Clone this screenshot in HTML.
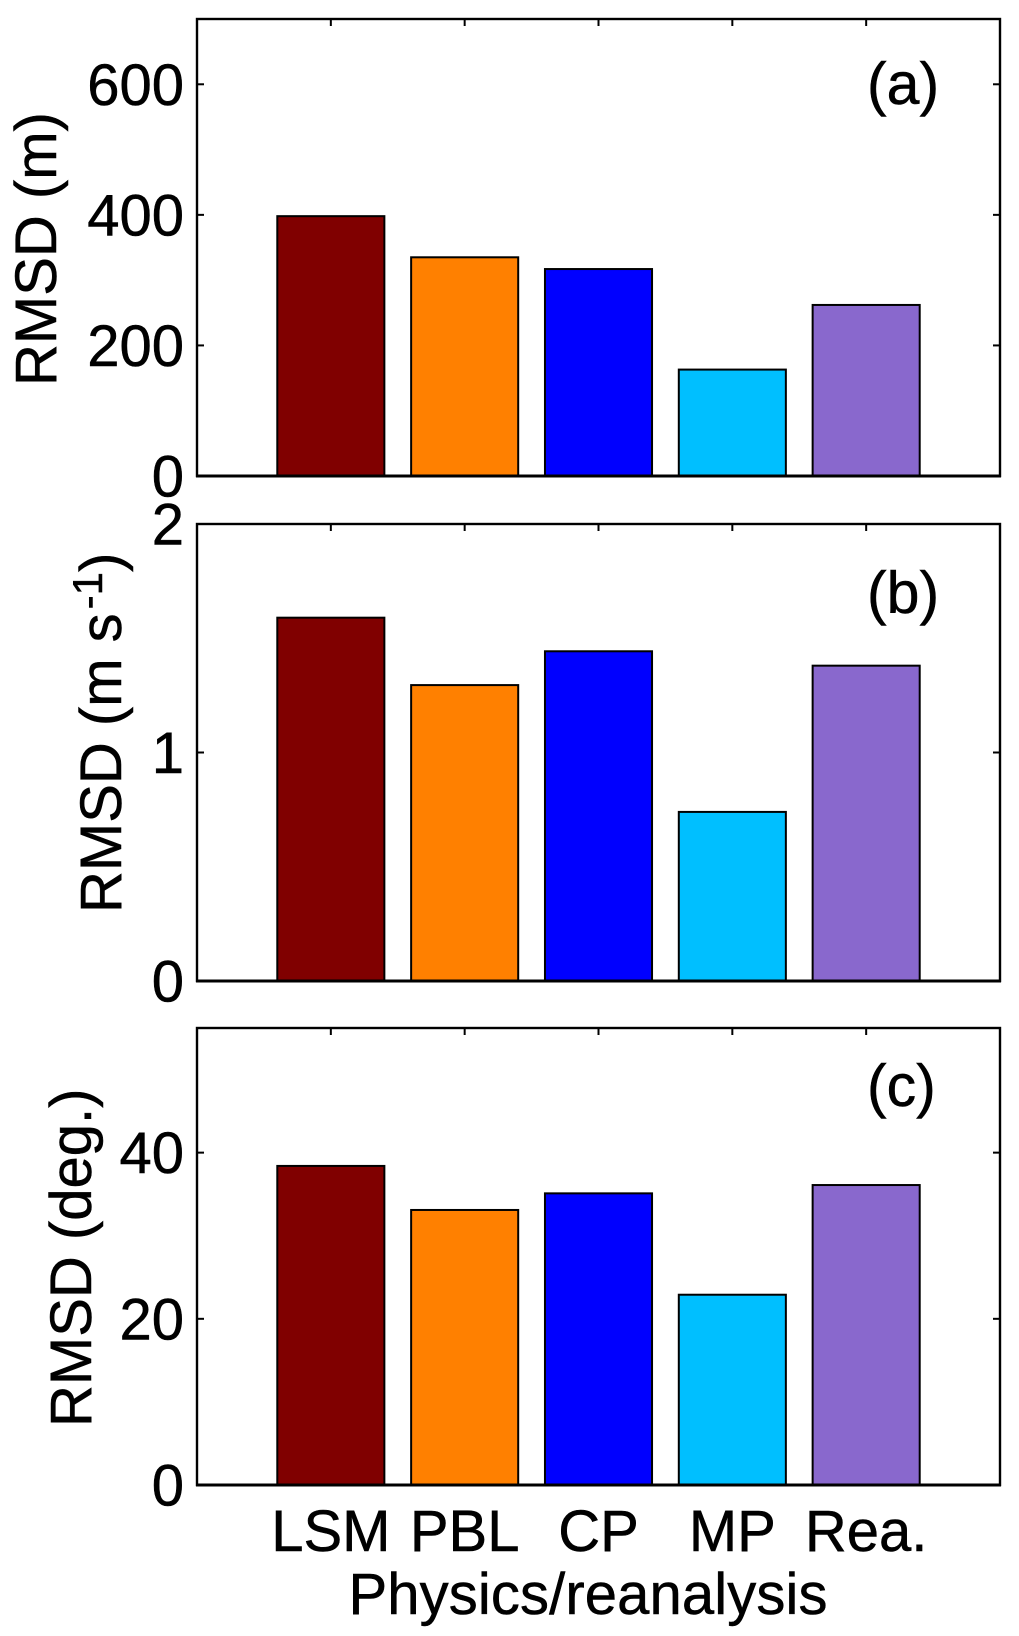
<!DOCTYPE html>
<html lang="en">
<head>
<meta charset="utf-8">
<title>RMSD by physics and reanalysis</title>
<style>
html,body{margin:0;padding:0;background:#fff;}
#chart{display:block;position:absolute;left:0;top:0;}
text{font-family:"Liberation Sans",Arial,sans-serif;font-size:58px;fill:#000;stroke:#000;stroke-width:.5px;}
text.panel-label{font-size:59px;}
</style>
</head>
<body>
<svg id="chart" xmlns="http://www.w3.org/2000/svg" width="1019" height="1636" viewBox="0 0 1019 1636">
<rect width="1019" height="1636" fill="#fff"/>
<g id="panels"></g>
<text transform="translate(56,386) rotate(-90)">RMSD (m)</text>
<text transform="translate(121,913) rotate(-90)">RMSD (m s<tspan dx="4" dy="-19" style="font-size:42px">-1</tspan><tspan dy="19">)</tspan></text>
<text transform="translate(91,1427) rotate(-90)">RMSD (deg.)</text>
<text x="588" y="1614" text-anchor="middle" textLength="479">Physics/reanalysis</text>
<text class="panel-label" x="867" y="104">(a)</text>
<text class="panel-label" x="867" y="613">(b)</text>
<text class="panel-label" x="867" y="1106">(c)</text>
</svg>
<script>
const categories = ['LSM', 'PBL', 'CP', 'MP', 'Rea.'];
const barColors = ['#800000', '#ff8000', '#0000ff', '#00bfff', '#8968cd'];
const valuesA = [398, 335, 317, 163, 262];
const valuesB = [1.59, 1.295, 1.443, 0.74, 1.38];
const valuesC = [38.4, 33.1, 35.1, 22.9, 36.1];
const ticksA = [0, 200, 400, 600];
const ticksB = [0, 1, 2];
const ticksC = [0, 20, 40];
const maxA = 700;
const maxB = 2;
const maxC = 55;

const SVG_NS = 'http://www.w3.org/2000/svg';
const plotLeft = 197;
const plotRight = 1000;
const tickLength = 7;
const barWidthUnits = 0.8;
const xMaxUnits = 6;

function xScale(u) {
  return plotLeft + (u / xMaxUnits) * (plotRight - plotLeft);
}

function make(parent, tag, attrs) {
  const el = document.createElementNS(SVG_NS, tag);
  for (const k in attrs) el.setAttribute(k, attrs[k]);
  parent.appendChild(el);
  return el;
}

function drawPanel(root, id, top, bottom, yMax, values, ticks, showCategories) {
  const yScale = v => bottom - (v / yMax) * (bottom - top);
  const g = make(root, 'g', {});
  
  

  values.forEach((v, i) => {
    const cx = xScale(i + 1);
    const w = xScale(barWidthUnits) - plotLeft;
    const bar = make(g, 'rect', {
      x: cx - w / 2, y: yScale(v), width: w, height: bottom - yScale(v),
      fill: barColors[i], stroke: '#000', 'stroke-width': 2
    });
    
    
  });

  const frame = make(g, 'rect', {
    x: plotLeft, y: top, width: plotRight - plotLeft, height: bottom - top,
    fill: 'none', stroke: '#000', 'stroke-width': 2.4
  });
  
  

  const base = make(g, 'line', {
    x1: plotLeft - 1, x2: plotRight + 1, y1: bottom, y2: bottom, stroke: '#000', 'stroke-width': 3
  });
  
  

  categories.forEach((c, i) => {
    const cx = xScale(i + 1);
    const t = make(g, 'line', {
      x1: cx, x2: cx, y1: top, y2: top + tickLength, stroke: '#000', 'stroke-width': 2
    });
    
    
    if (showCategories) {
      const lab = make(g, 'text', { x: cx, y: bottom + 66, 'text-anchor': 'middle' });
      lab.textContent = c;
      
      
    }
  });

  ticks.forEach(v => {
    const y = yScale(v);
    const l = make(g, 'line', {
      x1: plotLeft, x2: plotLeft + tickLength, y1: y, y2: y, stroke: '#000', 'stroke-width': 2
    });
    
    
    const r = make(g, 'line', {
      x1: plotRight - tickLength, x2: plotRight, y1: y, y2: y, stroke: '#000', 'stroke-width': 2
    });
    
    
    const lab = make(g, 'text', { x: 184, y: y + 20.5, 'text-anchor': 'end' });
    lab.textContent = String(v);
    
    
  });
}

const panelsRoot = document.getElementById('panels');
drawPanel(panelsRoot, 'a', 19, 476, maxA, valuesA, ticksA, false);
drawPanel(panelsRoot, 'b', 524, 981, maxB, valuesB, ticksB, false);
drawPanel(panelsRoot, 'c', 1028, 1485, maxC, valuesC, ticksC, true);
</script>
</body>
</html>
